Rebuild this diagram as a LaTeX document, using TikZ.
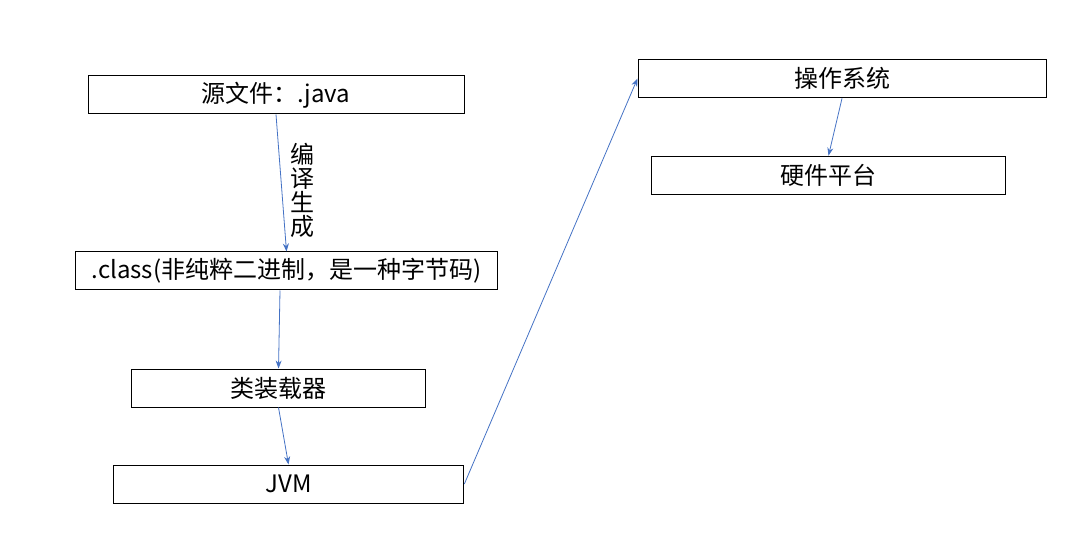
\documentclass[tikz,border=0pt]{standalone}
\usepackage{fontspec}
\setmainfont{Noto Sans CJK SC}
\usetikzlibrary{arrows.meta}
\definecolor{linkblue}{HTML}{4472C4}
\tikzset{
    box/.style={draw, line width=0.75pt, inner sep=0pt, minimum height=28.5pt,
        font=\fontsize{18pt}{20pt}\selectfont},
    link/.style={draw=linkblue, line width=0.6pt, -{Stealth[length=6pt,width=4.5pt]}}
}
\begin{document}
\begin{tikzpicture}[x=0.75pt,y=-0.75pt]
    % Fix the page size
    \useasboundingbox (0,0) rectangle (1091,534);

    % Left column: from source to JVM
    \node[box, minimum width=282pt] (src) at (276,95) {源文件：.java};
    \node[box, minimum width=316pt] (cls) at (286.5,271) {.class(非纯粹二进制，是一种字节码)};
    \node[box, minimum width=221pt] (loader) at (278.5,388) {类装载器};
    \node[box, minimum width=263pt] (jvm) at (288.5,484) {JVM};

    % Right column: system and hardware
    \node[box, minimum width=306pt, minimum height=29pt] (os) at (842,78.5) {操作系统};
    \node[box, minimum width=266pt, minimum height=29pt] (hw) at (828.5,175.5) {硬件平台};

    % Arrows
    \draw[link] (src.south) -- (cls.north);
    \draw[link] (cls.south -| 280,0) -- (loader.north);
    \draw[link] (loader.south) -- (jvm.north);
    \draw[link] (jvm.east) -- (os.west);
    \draw[link] (os.south) -- (hw.north);

    % Vertical label of the first arrow
    \node[align=center, font=\fontsize{18pt}{18pt}\selectfont] (compile) at (302,190) {编\\译\\生\\成};
\end{tikzpicture}
\end{document}
